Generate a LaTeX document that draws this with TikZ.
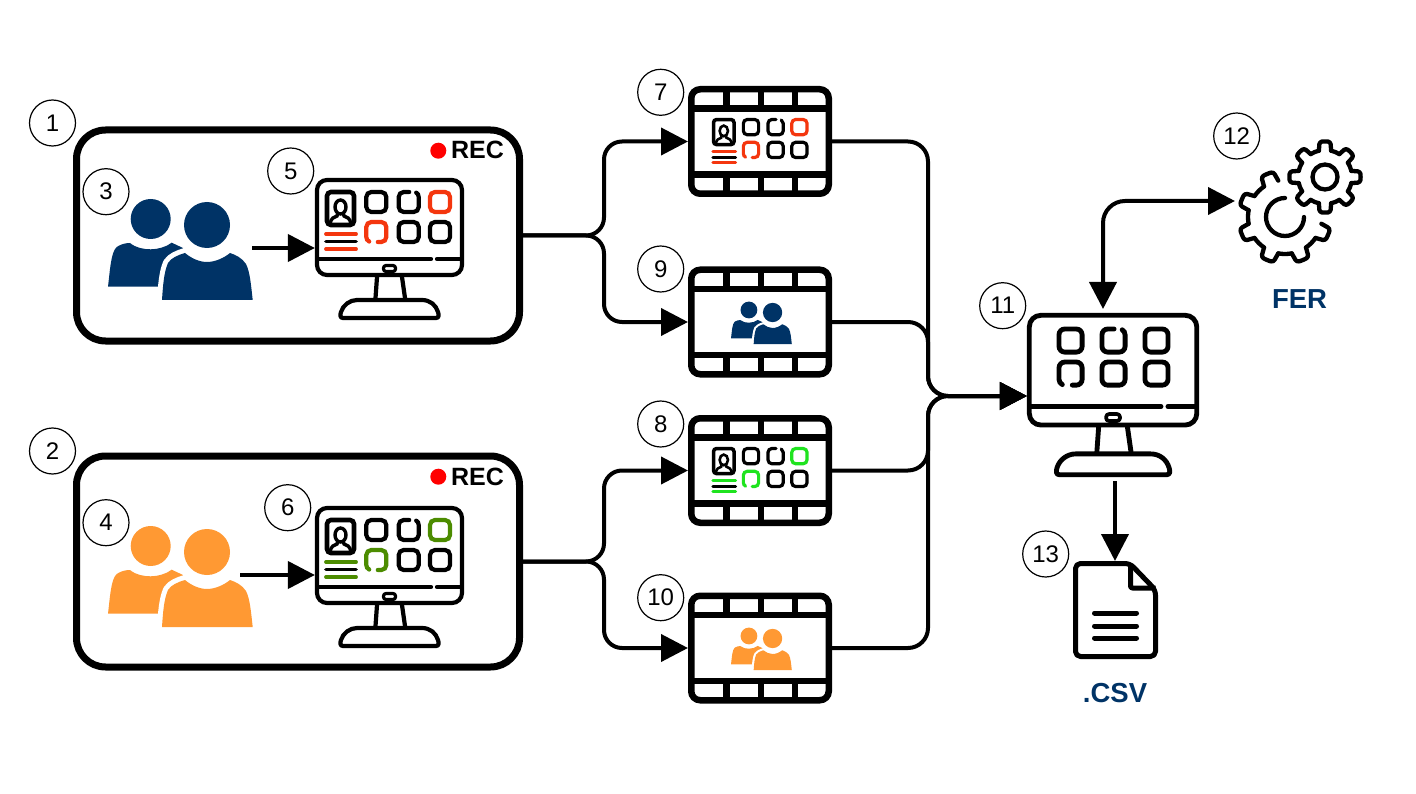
\documentclass[tikz,border=0pt]{standalone}
\usepackage{fontspec}
\setmainfont{Liberation Sans}
\usetikzlibrary{arrows.meta,calc}
\definecolor{navy}{HTML}{003366}
\definecolor{peach}{HTML}{FF9933}
\definecolor{recred}{HTML}{FF0000}
\definecolor{accred}{HTML}{F4360E}
\definecolor{accolive}{HTML}{4C8C00}
\definecolor{acclime}{HTML}{1FE31F}
\tikzset{
  numcirc/.style={circle,draw=black,line width=1.2pt,fill=white,minimum size=46pt,inner sep=0pt,font=\fontsize{24}{24}\selectfont},
  frameb/.style={draw=black,line width=7pt,rounded corners=29pt,fill=white,minimum width=443pt,minimum height=211pt,inner sep=0pt},
  filmb/.style={draw=black,line width=6.5pt,rounded corners=9pt,fill=white,minimum width=137.5pt,minimum height=104.5pt,inner sep=0pt},
  monb/.style={draw=black,rounded corners=10pt,fill=white,inner sep=0pt},
  ghost/.style={inner sep=0pt,outer sep=0pt},
  conn/.style={line width=4pt,draw=black,rounded corners=20pt},
  arr/.style={conn,-{Triangle[length=27pt,width=27pt]}},
  darr/.style={conn,rounded corners=22pt,{Triangle[length=27pt,width=27pt]}-{Triangle[length=27pt,width=27pt]}},
  rectxt/.style={ghost,font=\bfseries\fontsize{25}{25}\selectfont},
  lbl/.style={ghost,text=navy,font=\bfseries\fontsize{27.5}{27.5}\selectfont},
}
% tile: #1 x, #2 y (local), #3 colour, #4 kind 0 closed 1 gap top 2 gap bottom
\newcommand{\dTile}[4]{%
  \ifcase#4\relax
  \draw[#3,line width=\sc*4.2pt] (#1+5,#2) -- (#1+15,#2) arc[start angle=90,end angle=0,radius=5pt] -- (#1+20,#2+15) arc[start angle=0,end angle=-90,radius=5pt] -- (#1+5,#2+20) arc[start angle=-90,end angle=-180,radius=5pt] -- (#1,#2+5) arc[start angle=180,end angle=90,radius=5pt] -- cycle;
  \or
  \draw[#3,line width=\sc*4.2pt,line cap=round] (#1+10.5,#2) -- (#1+5,#2) arc[start angle=90,end angle=180,radius=5pt] -- (#1,#2+15) arc[start angle=180,end angle=270,radius=5pt] -- (#1+15,#2+20) arc[start angle=270,end angle=360,radius=5pt] -- (#1+20,#2+5) arc[start angle=0,end angle=60,radius=5pt];
  \or
  \draw[#3,line width=\sc*4.2pt,line cap=round] (#1+11.5,#2+20) -- (#1+15,#2+20) arc[start angle=-90,end angle=0,radius=5pt] -- (#1+20,#2+5) arc[start angle=0,end angle=90,radius=5pt] -- (#1+5,#2) arc[start angle=90,end angle=180,radius=5pt] -- (#1,#2+15) arc[start angle=180,end angle=245,radius=5pt];
  \fi}
% monitor chrome: name, x, y, scale
\newcommand{\dMonitor}[4]{%
  \def\sc{#4}%
  \node[monb,line width=#4*4.2pt,rounded corners=#4*10pt,minimum width=#4*145pt,minimum height=#4*95pt] (#1) at ({#2+#4*74.5},{#3+#4*49.5}) {};
  \begin{scope}[shift={(#2,#3)},scale=#4,line width=#4*4.2pt,line cap=round,line join=round]
    \draw (3,81) -- (116,81) (122,81) -- (146,81);
    \draw[line width=#4*3.2pt,rounded corners=#4*2.5pt] (68.5,87.5) rectangle (80.5,93.5);
    \draw (62,99) -- (60.5,120) (87,99) -- (90,120);
    \draw (28,140) .. controls (25,140) and (25,137) .. (26,134) .. controls (28,127) and (35,122) .. (42,122) -- (107,122) .. controls (115,122) and (121,127) .. (123,134) .. controls (124,137) and (124,140) .. (121,140) -- cycle;
  \end{scope}}
% screen content with portrait: x, y, scale, accent
\newcommand{\dScreen}[4]{%
  \def\sc{#3}%
  \begin{scope}[shift={(#1,#2)},scale=#3]
    \draw[line width=#3*4.6pt,rounded corners=#3*4pt] (2,2) rectangle (29,35);
    \draw[line width=#3*3.4pt] (15.5,17) ellipse[x radius=5.5pt,y radius=7pt];
    \draw[line width=#3*3.4pt] (5,34) .. controls (6,28) and (9,27) .. (12,26) -- (12.5,24);
    \draw[line width=#3*3.4pt] (18.5,24) -- (19,26) .. controls (22,27) and (25,28) .. (26,34);
    \draw[#4,line width=#3*3.8pt,line cap=round] (1,44) -- (31,44) (1,59) -- (31,59);
    \draw[black,line width=#3*3.8pt,line cap=round] (1,51.5) -- (31,51.5);
    \dTile{41.3}{2}{black}{0}
    \dTile{73.7}{2}{black}{1}
    \dTile{105}{2}{#4}{0}
    \dTile{41.3}{32}{#4}{2}
    \dTile{73.7}{32}{black}{0}
    \dTile{105}{32}{black}{0}
  \end{scope}}
% people: x, y, scale, colour
\newcommand{\dPeople}[4]{%
  \begin{scope}[shift={(#1,#2)},scale=#3]
    \fill[#4] (42.7,19) circle[radius=20pt];
    \fill[#4] (0,86.7) .. controls (2,70) and (3,52) .. (8.7,47) .. controls (13,44) and (18,43) .. (22,43) .. controls (28,48) and (36,49.3) .. (42.7,49.3) .. controls (50,49.3) and (58,47) .. (63.7,42.7) -- (75,48) -- (75,86.7) -- cycle;
    \draw[white,line width=#3*10pt,line join=round] (54,100) .. controls (55,85) and (56,72) .. (60,63) .. controls (63,58) and (70,55) .. (77,53) .. controls (83,58) and (91,62) .. (99,62);
    \fill[#4] (54,100) .. controls (55,85) and (56,72) .. (60,63) .. controls (63,58) and (70,55) .. (77,53) .. controls (83,58) and (91,62) .. (99,62) .. controls (107,62) and (116,58) .. (122,53) .. controls (128,55) and (134,58) .. (138,64) .. controls (142,72) and (143,85) .. (144.7,100) -- cycle;
    \fill[#4] (99,25) circle[radius=23pt];
  \end{scope}}
% film: name, x(outer left), y(outer top)
\newcommand{\dFilm}[3]{%
  \node[filmb] (#1) at (#2+72,#3+55.5) {};
  \begin{scope}[shift={(#2,#3)},line width=6.5pt]
    \draw (3,22.5) -- (141,22.5) (3,88.5) -- (141,88.5);
    \foreach \fx in {38.7,73,107}{\draw (\fx,3) -- (\fx,22.5) (\fx,88.5) -- (\fx,108);}
  \end{scope}}
% gear: cx, cy, root, tip, root half angle, tip half angle, teeth list, arcs list
\newcommand{\dGear}[8]{%
  \begin{scope}[shift={(#1,#2)},line width=4.3pt,line cap=round,line join=round]
    \foreach \t in {#7}{
      \pgfmathsetmacro\aa{\t-#5}\pgfmathsetmacro\ab{\t-#6}\pgfmathsetmacro\ac{\t+#6}\pgfmathsetmacro\ad{\t+#5}
      \draw[rounded corners=2.5pt] (\aa:#3pt) -- (\ab:#4pt) arc[start angle=\ab,end angle=\ac,radius=#4pt] -- (\ad:#3pt);
    }
    \foreach \t in {#8}{
      \pgfmathsetmacro\aa{\t+#5}\pgfmathsetmacro\ab{\t+45-#5}
      \draw (\aa:#3pt) arc[start angle=\aa,end angle=\ab,radius=#3pt];
    }
  \end{scope}}
\begin{document}
\begin{tikzpicture}[x=1pt,y=-1pt]
\useasboundingbox (0,0) rectangle (1416,794);
% frames
\node[frameb] (b1) at (298,235.5) {};
\node[frameb] (b2) at (298,561.5) {};
% REC labels
\fill[recred] (438.3,150.7) circle[radius=8pt];
\node[rectxt] (rec1) at (477.5,150) {REC};
\fill[recred] (438.3,476.7) circle[radius=8pt];
\node[rectxt] (rec2) at (477.5,476.5) {REC};
% people
\node[ghost,minimum width=145pt,minimum height=100pt] (p3) at (180.5,250) {};
\node[ghost,minimum width=145pt,minimum height=100pt] (p4) at (180.5,577) {};
\dPeople{108}{200}{1}{navy}
\dPeople{108}{527}{1}{peach}
% monitors
\dMonitor{m5}{315}{178}{1}
\dScreen{325}{190}{1}{accred}
\dMonitor{m6}{315}{506}{1}
\dScreen{325}{518}{1}{accolive}
\dMonitor{m11}{1027}{313}{1.155}
\begin{scope}[shift={(1059,329)},scale=1.155]
  \def\sc{1.155}
  \dTile{0}{0}{black}{0}
  \dTile{37.2}{0}{black}{1}
  \dTile{74.4}{0}{black}{0}
  \dTile{0}{28.6}{black}{2}
  \dTile{37.2}{28.6}{black}{0}
  \dTile{74.4}{28.6}{black}{0}
\end{scope}
% films
\dFilm{f7}{688}{86}
\dScreen{712}{118}{0.76}{accred}
\dFilm{f9}{688}{266.5}
\dPeople{731}{302}{0.42}{navy}
\dFilm{f8}{688}{415}
\dScreen{712}{447}{0.76}{acclime}
\dFilm{f10}{688}{592.5}
\dPeople{731}{628}{0.42}{peach}
% gears
\dGear{1285}{217}{37}{46.5}{12}{8}{112.5,157.5,202.5,247.5,292.5,337.5}{112.5,157.5,202.5,247.5,292.5}
\draw[line width=4.3pt,line cap=round] (1285,198) arc[start angle=90,end angle=360,radius=19pt];
\dGear{1325}{177}{27}{35.5}{13}{9}{0,45,90,135,180,225,270,315}{0,45,90,135,180,225,270,315}
\draw[line width=4.3pt] (1325,177) circle[radius=12.5pt];
\node[ghost,minimum width=128pt,minimum height=122pt] (g12) at (1299,204) {};
\node[lbl] (fer) at (1299.5,299) {FER};
% document
\node[ghost,minimum width=85pt,minimum height=98pt] (d13) at (1115.5,610) {};
\draw[line width=5pt,line join=round,rounded corners=5pt] (1130,563.5) -- (1075.5,563.5) -- (1075.5,656.5) -- (1155.5,656.5) -- (1155.5,590) -- cycle;
\draw[line width=5pt,line join=round,rounded corners=2pt] (1130.5,563.5) -- (1130.5,588) -- (1155.5,588);
\draw[line width=5pt,line cap=round] (1094.5,613) -- (1136.5,613) (1094.5,626) -- (1136.5,626) (1094.5,638) -- (1136.5,638);
\node[lbl] (csv) at (1115,693) {.CSV};
% junction coordinates
\coordinate (jl1) at (604,235.5);
\coordinate (jl2) at (604,561.5);
\coordinate (jr) at (928,396);
\coordinate (a3) at (252,248);
\coordinate (a4) at (240,575);
\coordinate (m11top) at (1103,309);
\coordinate (gearin) at (1235,201);
\coordinate (m11out) at (1115,481);
% connectors
\draw[arr,rounded corners=0pt] (a3) -- (m5.west |- a3);
\draw[arr,rounded corners=0pt] (a4) -- (m6.west |- a4);
\draw[arr,rounded corners=18pt] (b1.east) -- (jl1) |- (f7.west);
\draw[arr,rounded corners=18pt] (b1.east) -- (jl1) |- (f9.west);
\draw[arr,rounded corners=18pt] (b2.east) -- (jl2) |- (f8.west);
\draw[arr,rounded corners=18pt] (b2.east) -- (jl2) |- (f10.west);
\draw[arr] (f7.east) -| (jr) -- (m11.west |- jr);
\draw[arr] (f9.east) -| (jr) -- (m11.west |- jr);
\draw[arr] (f8.east) -| (jr) -- (m11.west |- jr);
\draw[arr] (f10.east) -| (jr) -- (m11.west |- jr);
\draw[darr] (m11top) |- (gearin);
\draw[arr,rounded corners=0pt] (m11out) -- (d13.north -| m11out);
% numbers
\node[numcirc] (n1) at (52.5,123) {1};
\node[numcirc] (n2) at (52.5,451) {2};
\node[numcirc] (n3) at (106,191.7) {3};
\node[numcirc] (n4) at (106,522.7) {4};
\node[numcirc] (n5) at (290.7,171) {5};
\node[numcirc] (n6) at (287.7,507.7) {6};
\node[numcirc] (n7) at (660.7,92.3) {7};
\node[numcirc] (n8) at (660.7,424) {8};
\node[numcirc] (n9) at (660.7,269) {9};
\node[numcirc] (n10) at (660.7,597.7) {10};
\node[numcirc] (n11) at (1002.7,305.7) {11};
\node[numcirc] (n12) at (1236.7,136) {12};
\node[numcirc] (n13) at (1045.7,554) {13};
\end{tikzpicture}
\end{document}
